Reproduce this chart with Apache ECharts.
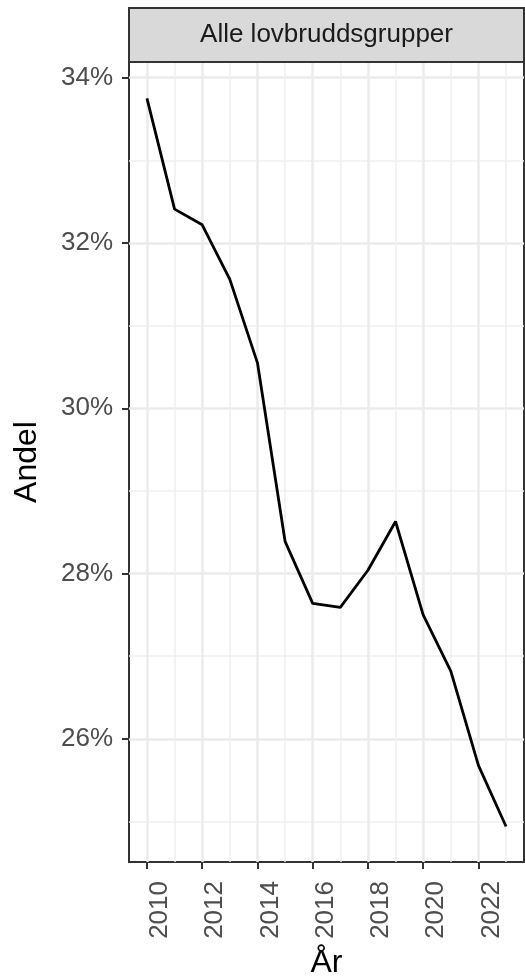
<!DOCTYPE html>
<html lang="no">
<head>
    <meta charset="UTF-8">
    <title>Andel</title>
    <script src="https://cdn.jsdelivr.net/npm/echarts@6/dist/echarts.min.js"></script>
    <style type="text/css">
        *{margin: 0;padding: 0;border: none}
        html,body{width: 100%;height: 100%;overflow: hidden;background: #fff}
        #main{width: 525px;height: 976px}
    </style>
</head>
<body>
<div id="main"></div>
<script type="text/javascript">
    // data
    var years = [2010, 2011, 2012, 2013, 2014, 2015, 2016, 2017, 2018, 2019, 2020, 2021, 2022, 2023];
    var andel = [33.75, 32.41, 32.22, 31.56, 30.55, 28.39, 27.64, 27.59, 28.04, 28.63, 27.50, 26.82, 25.68, 24.94];
    var xMajor = [2010, 2012, 2014, 2016, 2018, 2020, 2022];
    var xMinor = [2011, 2013, 2015, 2017, 2019, 2021, 2023];
    var yMajor = [26, 28, 30, 32, 34];
    var yMinor = [25, 27, 29, 31, 33];
    var stripLabel = 'Alle lovbruddsgrupper';

    var font = '"Liberation Sans", Arial, sans-serif';
    var seriesData = years.map(function (y, i) { return [y, andel[i]]; });

    var xMin = 2009.35, xMax = 2023.65;
    var yMin = 24.51, yMax = 34.19;

    var myChart = echarts.init(document.getElementById('main'));
    var option = {
        animation: false,
        backgroundColor: '#fff',
        grid: {
            left: 129,
            top: 62,
            width: 395,
            bottom: 114,
            outerBoundsMode: 'none',
            containLabel: false,
            show: true,
            borderColor: '#333333',
            borderWidth: 2,
            backgroundColor: 'transparent'
        },
        xAxis: [
            {
                type: 'value',
                min: xMin,
                max: xMax,
                name: 'År',
                nameLocation: 'middle',
                nameGap: 84,
                nameTextStyle: {color: '#000', fontSize: 32, fontFamily: font},
                axisLine: {show: false},
                axisTick: {show: true, length: 7, customValues: xMajor, lineStyle: {color: '#333333', width: 2}},
                axisLabel: {
                    customValues: xMajor,
                    rotate: 90,
                    margin: 19,
                    verticalAlign: 'top',
                    color: '#4D4D4D',
                    fontSize: 26,
                    fontFamily: font,
                    formatter: function (v) { return String(v); }
                },
                splitLine: {show: true, lineStyle: {color: '#EBEBEB', width: 2.5}},
                z: 1
            },
            {
                type: 'value',
                min: xMin,
                max: xMax,
                position: 'bottom',
                axisLine: {show: false},
                axisTick: {show: false, customValues: xMinor},
                axisLabel: {show: false, customValues: xMinor},
                splitLine: {show: true, lineStyle: {color: '#EFEFEF', width: 1.5}}
            }
        ],
        yAxis: [
            {
                type: 'value',
                min: yMin,
                max: yMax,
                name: 'Andel',
                nameLocation: 'middle',
                nameGap: 86,
                nameRotate: 90,
                nameTextStyle: {color: '#000', fontSize: 32, fontFamily: font},
                axisLine: {show: false},
                axisTick: {show: true, length: 7, customValues: yMajor, lineStyle: {color: '#333333', width: 2}},
                axisLabel: {
                    customValues: yMajor,
                    margin: 16,
                    color: '#4D4D4D',
                    fontSize: 26,
                    fontFamily: font,
                    formatter: function (v) { return v + '%'; }
                },
                splitLine: {show: true, lineStyle: {color: '#EBEBEB', width: 2.5}}
            },
            {
                type: 'value',
                min: yMin,
                max: yMax,
                position: 'left',
                axisLine: {show: false},
                axisTick: {show: false, customValues: yMinor},
                axisLabel: {show: false, customValues: yMinor},
                splitLine: {show: true, lineStyle: {color: '#EFEFEF', width: 1.5}}
            }
        ],
        series: [
            {
                name: 'Andel',
                type: 'line',
                data: seriesData,
                showSymbol: false,
                symbol: 'none',
                lineStyle: {color: '#000', width: 2.8},
                z: 5
            }
        ],
        graphic: [
            {
                type: 'rect',
                shape: {x: 129, y: 8, width: 395, height: 54},
                style: {fill: '#D9D9D9', stroke: '#333333', lineWidth: 2},
                z: 10
            },
            {
                type: 'text',
                x: 326.5,
                y: 35,
                style: {
                    text: stripLabel,
                    fill: '#1A1A1A',
                    font: '26px ' + font,
                    textAlign: 'center',
                    textVerticalAlign: 'middle'
                },
                z: 11
            }
        ]
    };
    myChart.setOption(option);
</script>
</body>
</html>
